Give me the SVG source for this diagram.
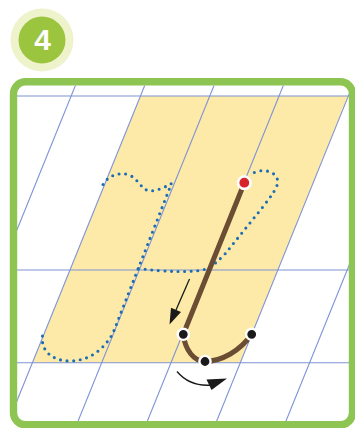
<svg xmlns="http://www.w3.org/2000/svg" width="355" height="428" viewBox="0 0 355 428">
<style>
.grid{stroke:#7f93d6;stroke-width:1.1;fill:none}
.dots{fill:none;stroke:#1d6db4;stroke-width:3.1;stroke-linecap:round;stroke-dasharray:0 6.6}
.pen{fill:none;stroke:#6b4d34;stroke-width:5;stroke-linecap:round;stroke-linejoin:round}
.pt{fill:#1a1a1a;stroke:#ffffff;stroke-width:2.4}
.arr{fill:none;stroke:#1a1a1a;stroke-width:1.3}
.head{fill:#1a1a1a}
</style>
<defs>
<clipPath id="inner"><rect x="17" y="85.5" width="332" height="336" rx="8"/></clipPath>
</defs>
<rect width="355" height="428" fill="#ffffff"/>
<g id="badge">
<circle cx="42" cy="40" r="31.5" fill="#eef3cb"/>
<circle cx="42" cy="40" r="23.5" fill="#9cc53f"/>
<text x="42.5" y="50" text-anchor="middle" font-family="Liberation Sans, Arial, sans-serif" font-weight="bold" font-size="30" fill="#ffffff">4</text>
</g>
<g id="paper" clip-path="url(#inner)">
<polygon points="140.5,96 348.4,96 240.4,362.7 32.5,362.7" fill="#fdeaa8"/>
<g class="grid">
<line x1="17" y1="96" x2="349" y2="96"/>
<line x1="17" y1="270" x2="349" y2="270"/>
<line x1="17" y1="362.7" x2="349" y2="362.7"/>
<line x1="75.6" y1="85" x2="-60.9" y2="422"/>
<line x1="144.9" y1="85" x2="8.4" y2="422"/>
<line x1="214.2" y1="85" x2="77.7" y2="422"/>
<line x1="283.5" y1="85" x2="147" y2="422"/>
<line x1="352.8" y1="85" x2="216.3" y2="422"/>
<line x1="422.1" y1="85" x2="285.6" y2="422"/>
<line x1="491.4" y1="85" x2="354.9" y2="422"/>
</g>
</g>
<g id="frame">
<rect x="13.5" y="81.8" width="339" height="343" rx="12" fill="none" stroke="#8dc452" stroke-width="7.4"/>
</g>
<g id="traced-strokes">
<path class="dots" d="M103,184.5 C108,176 118,172 128,174.5 C138,178 141,189 148,190.5 C156,192 165,187 171.5,183.5 L113,333 C105,348 90,361 70,361 C52,361 39,350 43,333"/>
<path class="dots" d="M138.5,268.5 C165,272 190,272.5 203,270 C212,267 218,261 225,254 L262,208 C272,195 279,186 277.5,180 C276,172 265,169 257,171.5 C254,172.5 252,173.5 251,174"/>
</g>
<g id="connectors">
<path class="pen" d="M244.3,183 L183.3,334.3 C185,350 194,361.5 205,361.5 C222,361 240,351 251.7,334.3"/>
<path class="arr" d="M189.5,279 L176,310"/>
<polygon class="head" points="169.5,324.5 181,312.1 171,307.7"/>
<path class="arr" d="M177,371.5 Q190,387 212,385"/>
<polygon class="head" points="227,378.5 206.5,379.5 211.5,390"/>
</g>
<g id="start-point">
<circle cx="244.3" cy="182.7" r="6.2" fill="#d9232b" stroke="#ffffff" stroke-width="2.6"/>
</g>
<g id="point-1"><circle class="pt" cx="183.3" cy="334.3" r="5.6"/></g>
<g id="point-2"><circle class="pt" cx="205" cy="361.5" r="5.6"/></g>
<g id="point-3"><circle class="pt" cx="251.7" cy="334.3" r="5.6"/></g>
</svg>
